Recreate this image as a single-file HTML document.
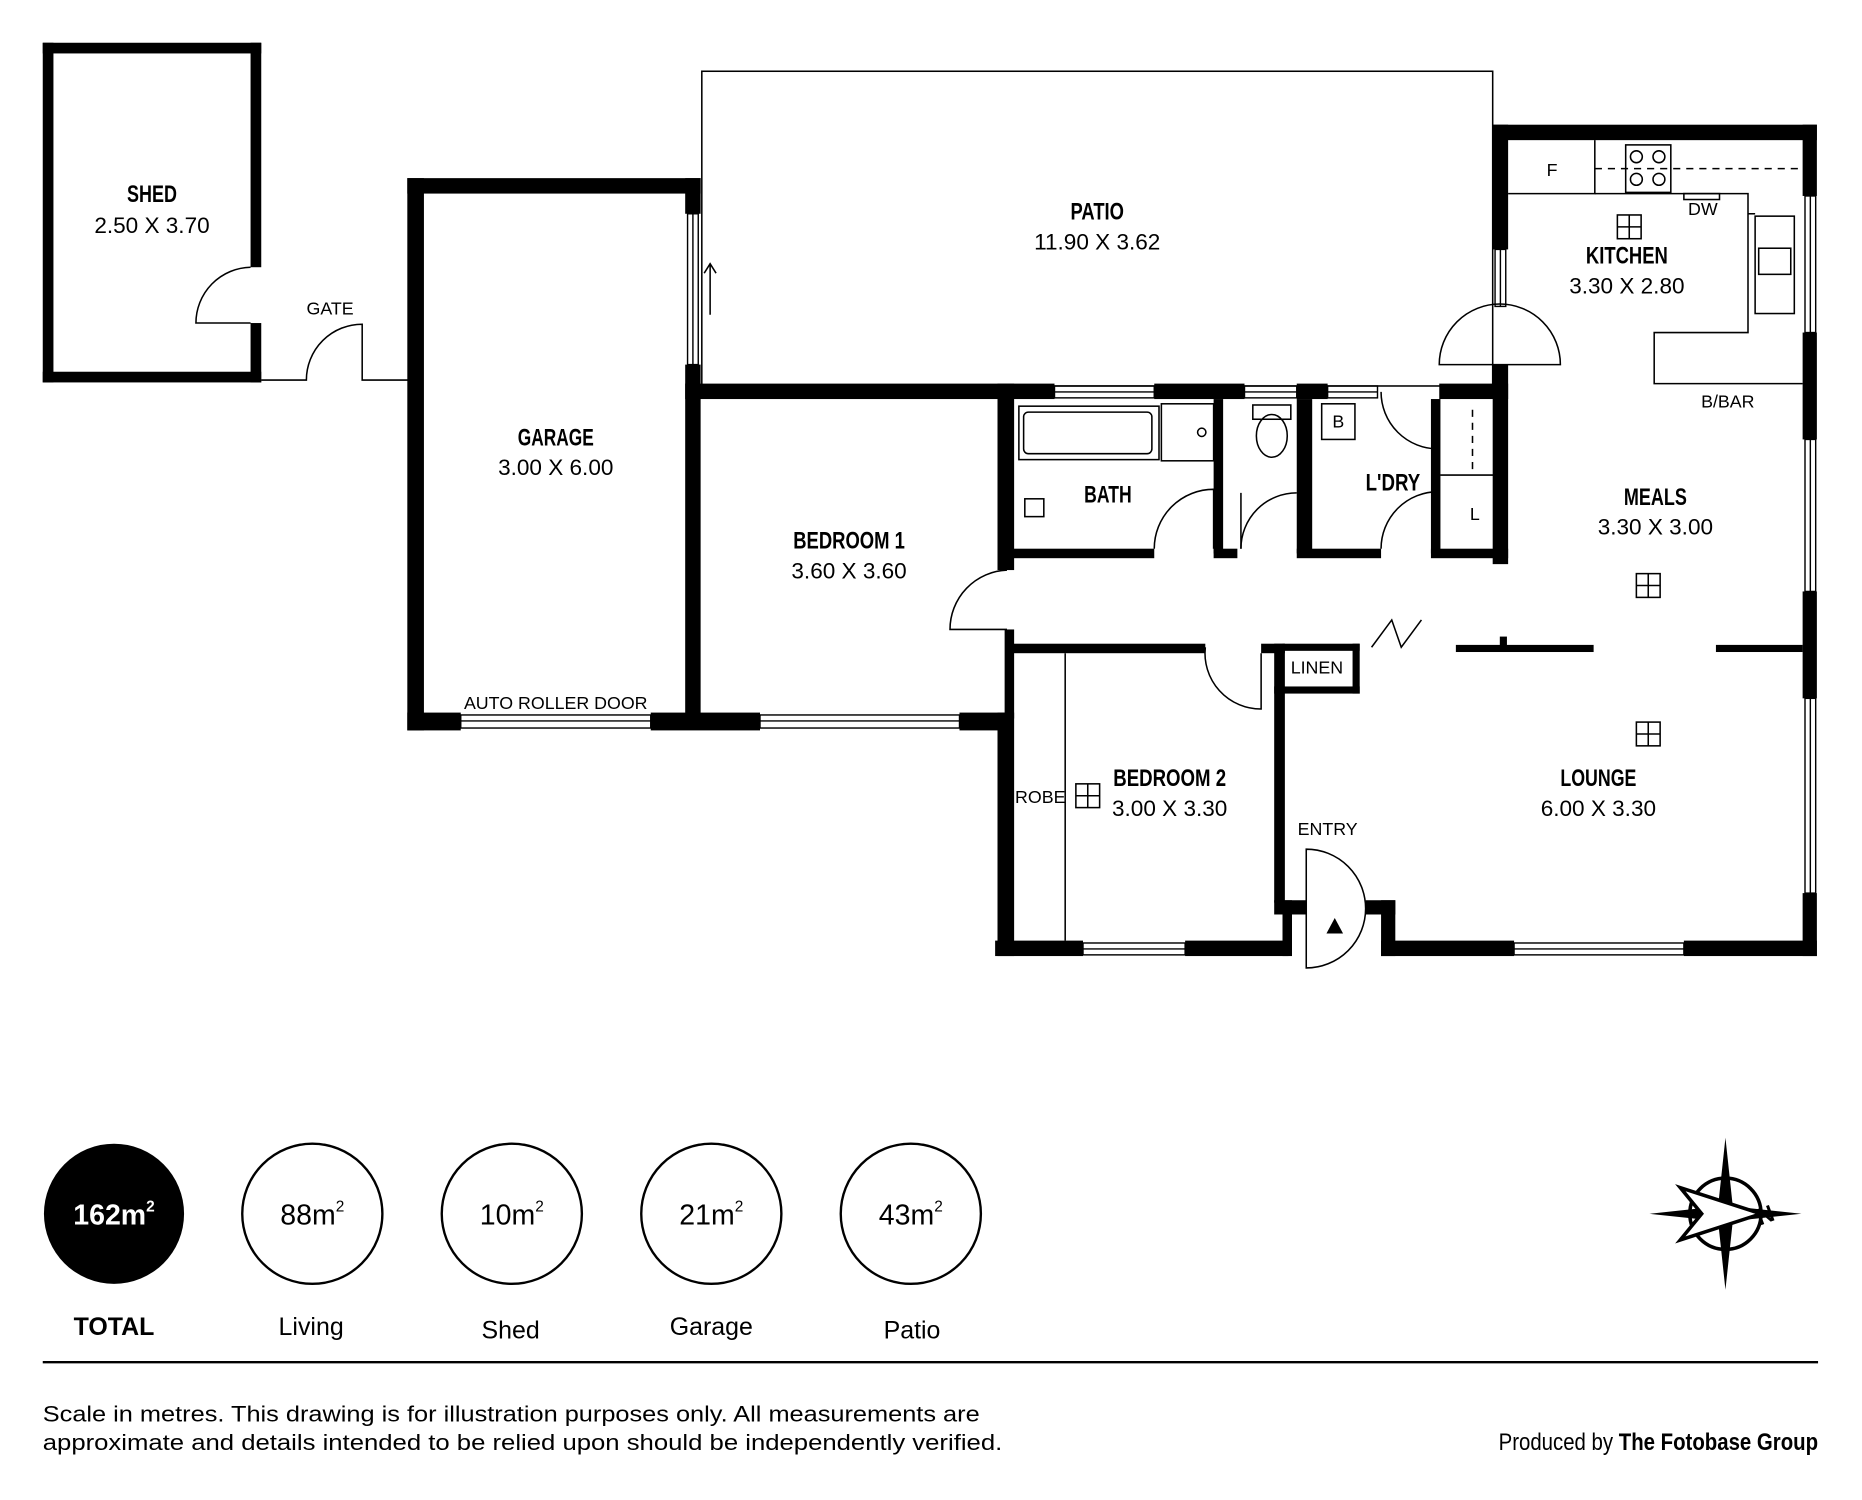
<!DOCTYPE html>
<html><head><meta charset="utf-8"><style>
html,body{margin:0;padding:0;background:#fff;}
svg{display:block;}
.n{font-family:"Liberation Sans",sans-serif;font-weight:bold;font-size:20px;text-anchor:middle;}
.d{font-family:"Liberation Sans",sans-serif;font-size:19px;text-anchor:middle;}
.s{font-family:"Liberation Sans",sans-serif;font-size:15px;text-anchor:middle;}
.t{fill:none;stroke:#000;stroke-width:1.3;}
.w{fill:#fff;stroke:#000;stroke-width:1.2;}
</style></head><body>
<svg width="1862" height="1500" viewBox="0 0 1568 1263" preserveAspectRatio="none" xmlns="http://www.w3.org/2000/svg">
<rect width="1568" height="1263" fill="#fff"/>
<g fill="#000">
<rect x="36" y="36" width="184" height="9"/>
<rect x="36" y="36" width="9" height="286"/>
<rect x="36" y="313" width="184" height="9"/>
<rect x="211" y="36" width="9" height="189"/>
<rect x="211" y="272" width="9" height="50"/>
<rect x="343" y="150" width="14" height="465"/>
<rect x="343" y="150" width="247" height="13"/>
<rect x="577" y="150" width="13" height="30"/>
<rect x="577" y="307" width="13" height="300"/>
<rect x="343" y="600" width="45" height="15"/>
<rect x="548" y="600" width="92" height="15"/>
<rect x="808" y="600" width="40" height="15"/>
<rect x="577" y="323" width="311" height="13"/>
<rect x="972" y="323" width="76" height="13"/>
<rect x="1092" y="323" width="26" height="13"/>
<rect x="1212" y="323" width="58" height="13"/>
<rect x="1257" y="105" width="273" height="13"/>
<rect x="1257" y="105" width="13" height="105"/>
<rect x="1257" y="307" width="13" height="168"/>
<rect x="1518" y="105" width="12" height="60"/>
<rect x="1518" y="280" width="12" height="90"/>
<rect x="1518" y="498" width="12" height="90"/>
<rect x="1518" y="752" width="12" height="53"/>
<rect x="1163" y="792" width="112" height="13"/>
<rect x="1418" y="792" width="112" height="13"/>
<rect x="838" y="792" width="74" height="13"/>
<rect x="998" y="792" width="87" height="13"/>
<rect x="840" y="600" width="14" height="205"/>
<rect x="840" y="323" width="14" height="157"/>
<rect x="846" y="530" width="8" height="75"/>
<rect x="848" y="462" width="124" height="8"/>
<rect x="1022" y="462" width="20" height="8"/>
<rect x="1092" y="462" width="71" height="8"/>
<rect x="1205" y="462" width="65" height="8"/>
<rect x="1022" y="336" width="8" height="130"/>
<rect x="1092" y="336" width="13" height="130"/>
<rect x="1205" y="336" width="8" height="130"/>
<rect x="848" y="542" width="167" height="8"/>
<rect x="1062" y="542" width="20" height="8"/>
<rect x="1073" y="542" width="9" height="218"/>
<rect x="1080" y="542" width="65" height="6"/>
<rect x="1139" y="542" width="6" height="42"/>
<rect x="1073" y="578" width="72" height="6"/>
<rect x="1073" y="758" width="27" height="12"/>
<rect x="1080" y="758" width="8" height="47"/>
<rect x="1150" y="758" width="25" height="12"/>
<rect x="1163" y="758" width="12" height="47"/>
<rect x="1226" y="543" width="116" height="6"/>
<rect x="1263" y="536" width="6" height="8"/>
<rect x="1445" y="543" width="73" height="6"/>
</g>
<g class="w">
<rect x="579" y="180" width="9" height="127"/><line x1="583.5" y1="180" x2="583.5" y2="307"/>
<rect x="388" y="602" width="160" height="11"/><line x1="388" y1="607" x2="548" y2="607"/>
<rect x="640" y="602" width="168" height="11"/><line x1="640" y1="607" x2="808" y2="607"/>
<rect x="888" y="325" width="84" height="10"/><line x1="888" y1="330" x2="972" y2="330"/>
<rect x="1048" y="325" width="44" height="10"/><line x1="1048" y1="330" x2="1092" y2="330"/>
<rect x="1118" y="325" width="42" height="10"/><line x1="1118" y1="330" x2="1160" y2="330"/>
<rect x="1259" y="210" width="9" height="48"/><line x1="1263.5" y1="210" x2="1263.5" y2="258"/>
<rect x="1520" y="165" width="9" height="115"/><line x1="1524.5" y1="165" x2="1524.5" y2="280"/>
<rect x="1520" y="370" width="9" height="128"/><line x1="1524.5" y1="370" x2="1524.5" y2="498"/>
<rect x="1520" y="588" width="9" height="164"/><line x1="1524.5" y1="588" x2="1524.5" y2="752"/>
<rect x="1275" y="794" width="143" height="10"/><line x1="1275" y1="799" x2="1418" y2="799"/>
<rect x="912" y="794" width="86" height="10"/><line x1="912" y1="799" x2="998" y2="799"/>
</g>
<g class="t">
<rect x="591" y="60" width="666" height="265"/>
<path d="M211 225 A47 47 0 0 0 165 272 L211 272"/>
<path d="M220 320 L258 320 A47 47 0 0 1 305 273 L305 320 L345 320"/>
<path d="M1212 307 A51 51 0 0 1 1314 307 Z"/>
<path d="M848 480 A50 50 0 0 0 800 530 L848 530"/>
<path d="M972 462 A50 50 0 0 1 1022 412 L1022 462"/>
<path d="M1045 462 A47 47 0 0 1 1092 415"/>
<line x1="1045" y1="415" x2="1045" y2="462"/>
<path d="M1163 462 A48 48 0 0 1 1211 414"/>
<path d="M1163 330 A48 48 0 0 0 1211 378"/>
<path d="M1015 545 A47 47 0 0 0 1062 597 L1062 550"/>
<path d="M1100 715 A50 50 0 0 1 1100 815 Z"/>
<path d="M1155 545 L1172 522 L1180 545 L1197 522"/>
<line x1="897" y1="550" x2="897" y2="792"/>
<rect x="858" y="342" width="118" height="45"/><rect x="862" y="347" width="108" height="35" rx="4"/>
<rect x="978" y="340" width="44" height="48"/><circle cx="1012" cy="364" r="3.5"/>
<rect x="863" y="420" width="16" height="15"/>
<rect x="1055" y="341" width="32" height="12"/><ellipse cx="1071" cy="367" rx="13" ry="18"/>
<rect x="1113" y="340" width="28" height="30"/>
<line x1="1213" y1="400" x2="1263" y2="400"/>
<line x1="1240" y1="345" x2="1240" y2="400" stroke-dasharray="6 5"/>
<path d="M1270 163 L1343 163 L1343 118"/>
<line x1="1343" y1="142" x2="1518" y2="142" stroke-dasharray="6 5"/>
<path d="M1343 163 L1472 163 L1472 280 L1393 280 L1393 323 L1518 323"/>
<rect x="1369" y="122" width="38" height="40"/>
<circle cx="1378" cy="132" r="5"/><circle cx="1397" cy="132" r="5"/><circle cx="1378" cy="151" r="5"/><circle cx="1397" cy="151" r="5"/>
<rect x="1418" y="163" width="30" height="5"/>
<rect x="1478" y="182" width="33" height="82"/><rect x="1481" y="209" width="27" height="22"/>
<line x1="1472" y1="180" x2="1478" y2="180"/>
<g><rect x="1362" y="181" width="20" height="20"/><line x1="1372" y1="181" x2="1372" y2="201"/><line x1="1362" y1="191" x2="1382" y2="191"/></g>
<g><rect x="1378" y="483" width="20" height="20"/><line x1="1388" y1="483" x2="1388" y2="503"/><line x1="1378" y1="493" x2="1398" y2="493"/></g>
<g><rect x="1378" y="608" width="20" height="20"/><line x1="1388" y1="608" x2="1388" y2="628"/><line x1="1378" y1="618" x2="1398" y2="618"/></g>
<g><rect x="906" y="660" width="20" height="20"/><line x1="916" y1="660" x2="916" y2="680"/><line x1="906" y1="670" x2="926" y2="670"/></g>
<line x1="36" y1="1147" x2="1531" y2="1147" stroke-width="2"/>
</g>
<path d="M598 265 L598 222 M593 230 L598 222 L603 230" class="t"/>
<polygon points="1124,773 1117,786 1131,786" fill="#000"/>
<text class="n" x="128" y="170" textLength="42" lengthAdjust="spacingAndGlyphs">SHED</text><text class="d" x="128" y="196">2.50 X 3.70</text>
<text class="s" x="278" y="265">GATE</text>
<text class="n" x="924" y="185" textLength="45" lengthAdjust="spacingAndGlyphs">PATIO</text><text class="d" x="924" y="210">11.90 X 3.62</text>
<text class="n" x="468" y="375" textLength="64" lengthAdjust="spacingAndGlyphs">GARAGE</text><text class="d" x="468" y="400">3.00 X 6.00</text>
<text class="s" x="468" y="597">AUTO ROLLER DOOR</text>
<text class="n" x="715" y="462" textLength="94" lengthAdjust="spacingAndGlyphs">BEDROOM 1</text><text class="d" x="715" y="487">3.60 X 3.60</text>
<text class="n" x="933" y="423" textLength="40" lengthAdjust="spacingAndGlyphs">BATH</text>
<text class="s" x="1127" y="360">B</text>
<text class="n" x="1173" y="413" textLength="46" lengthAdjust="spacingAndGlyphs">L'DRY</text>
<text class="s" x="1242" y="438">L</text>
<text class="s" x="1307" y="148">F</text>
<text class="s" x="1434" y="181">DW</text>
<text class="n" x="1370" y="222" textLength="69" lengthAdjust="spacingAndGlyphs">KITCHEN</text><text class="d" x="1370" y="247">3.30 X 2.80</text>
<text class="s" x="1455" y="343">B/BAR</text>
<text class="n" x="1394" y="425" textLength="53" lengthAdjust="spacingAndGlyphs">MEALS</text><text class="d" x="1394" y="450">3.30 X 3.00</text>
<text class="s" x="1109" y="567">LINEN</text>
<text class="s" x="876" y="676">ROBE</text>
<text class="n" x="985" y="662" textLength="95" lengthAdjust="spacingAndGlyphs">BEDROOM 2</text><text class="d" x="985" y="687">3.00 X 3.30</text>
<text class="s" x="1118" y="703">ENTRY</text>
<text class="n" x="1346" y="662" textLength="64" lengthAdjust="spacingAndGlyphs">LOUNGE</text><text class="d" x="1346" y="687">6.00 X 3.30</text>
<circle cx="96" cy="1022" r="59" fill="#000"/>
<text x="96" y="1031" font-family="Liberation Sans,sans-serif" font-weight="bold" font-size="24" fill="#fff" text-anchor="middle">162m<tspan font-size="13" dy="-11">2</tspan></text>
<g fill="none" stroke="#000" stroke-width="2">
<circle cx="263" cy="1022" r="59"/><circle cx="431" cy="1022" r="59"/><circle cx="599" cy="1022" r="59"/><circle cx="767" cy="1022" r="59"/>
</g>
<g font-family="Liberation Sans,sans-serif" font-size="24" text-anchor="middle">
<text x="263" y="1031">88m<tspan font-size="13" dy="-11">2</tspan></text>
<text x="431" y="1031">10m<tspan font-size="13" dy="-11">2</tspan></text>
<text x="599" y="1031">21m<tspan font-size="13" dy="-11">2</tspan></text>
<text x="767" y="1031">43m<tspan font-size="13" dy="-11">2</tspan></text>
</g>
<g font-family="Liberation Sans,sans-serif" font-size="21" text-anchor="middle">
<text x="96" y="1124" font-weight="bold">TOTAL</text>
<text x="262" y="1124">Living</text>
<text x="430" y="1127">Shed</text>
<text x="599" y="1124">Garage</text>
<text x="768" y="1127">Patio</text>
</g>
<g font-family="Liberation Sans,sans-serif" font-size="19">
<text x="36" y="1197" textLength="789" lengthAdjust="spacingAndGlyphs">Scale in metres. This drawing is for illustration purposes only. All measurements are</text>
<text x="36" y="1221" textLength="808" lengthAdjust="spacingAndGlyphs">approximate and details intended to be relied upon should be independently verified.</text>
</g>
<text x="1262" y="1221" textLength="269" lengthAdjust="spacingAndGlyphs" font-family="Liberation Sans,sans-serif" font-size="20">Produced by <tspan font-weight="bold">The Fotobase Group</tspan></text>
<g transform="translate(1453,1022)">
<circle r="30" fill="none" stroke="#000" stroke-width="3"/>
<polygon points="0,-64 6,-8 0,0 -6,-8" fill="#000"/>
<polygon points="0,64 6,8 0,0 -6,8" fill="#000"/>
<polygon points="-64,0 -8,-6 0,0 -8,6" fill="#000"/>
<polygon points="64,0 8,-6 0,0 8,6" fill="#000"/>
<polygon points="-38,-22 30,0 -38,22 -20,0" fill="#fff" stroke="#000" stroke-width="3"/>
<text x="33" y="8" font-family="Liberation Sans,sans-serif" font-weight="bold" font-size="20" text-anchor="middle" transform="rotate(-20 33 0)">N</text>
</g>
</svg>
</body></html>
